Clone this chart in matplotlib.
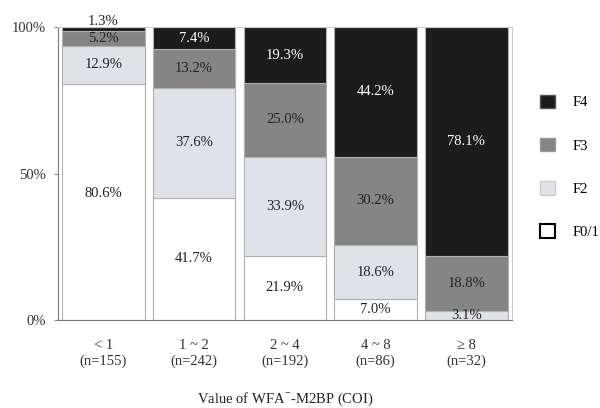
import numpy as np
import matplotlib
matplotlib.use("Agg")
import matplotlib.pyplot as plt
from matplotlib.patches import Patch

plt.rcParams['font.family'] = ['Liberation Serif', 'DejaVu Serif']
plt.rcParams['mathtext.fontset'] = 'custom'
plt.rcParams['mathtext.rm'] = 'Liberation Serif'

# data (percent of patients per fibrosis stage)
groups = ["< 1\n(n=155)", "1 ~ 2\n(n=242)", "2 ~ 4\n(n=192)", "4 ~ 8\n(n=86)", "≥ 8\n(n=32)"]
f01 = [80.6, 41.7, 21.9, 7.0, 0.0]
f2 = [12.9, 37.6, 33.9, 18.6, 3.1]
f3 = [5.2, 13.2, 25.0, 30.2, 18.8]
f4 = [1.3, 7.4, 19.3, 44.2, 78.1]

stages = ["F0/1", "F2", "F3", "F4"]
colors = ["#ffffff", "#dfe2e8", "#858585", "#1c1c1c"]
txt_colors = ["#222222", "#222222", "#222222", "#ffffff"]

fig = plt.figure(figsize=(6, 4.08), dpi=100)
ax = fig.add_axes([0.0967, 0.2157, 0.756, 0.718])

x = np.arange(len(groups))
bottom = np.zeros(len(groups))
for vals, col, tc, name in zip([f01, f2, f3, f4], colors, txt_colors, stages):
    vals = np.array(vals)
    ax.bar(x, vals, width=0.91, bottom=bottom, color=col,
           edgecolor="#b0b0b0", linewidth=0.8, label=name)
    for i, v in enumerate(vals):
        if v <= 0:
            continue
        y = bottom[i] + v / 2
        c = tc
        if v < 2:
            # tiny segment: label sits above the bar
            y = bottom[i] + v + 2.0
            c = "#222222"
        if v > 60 and col == "#ffffff":
            y += 3  # the big white block's label sits a bit high
        ax.text(x[i], y, f"{v:.1f}%", ha="center", va="center",
                fontsize=10.5, color=c)
    bottom += vals

ax.set_xlim(-0.5, 4.5)
ax.set_ylim(0, 100)
ax.set_yticks([0, 50, 100])
ax.set_yticklabels(["0%", "50%", "100%"], fontsize=10.5, color="#333333")
ax.set_xticks(x)
ax.set_xticklabels(groups, fontsize=10.5, color="#333333", linespacing=1.2)
ax.tick_params(axis="x", length=0, pad=14)
ax.tick_params(axis="y", length=3, color="#888888", pad=6)
for s in ["top", "right"]:
    ax.spines[s].set_color("#cccccc")
    ax.spines[s].set_linewidth(0.8)
for s in ["left", "bottom"]:
    ax.spines[s].set_color("#777777")
    ax.spines[s].set_linewidth(0.8)

ax.set_xlabel(r"Value of WFA$^{\mathregular{-}}$-M2BP (COI)", fontsize=10.5,
              color="#222222", labelpad=16)

handles = [Patch(facecolor=colors[3], edgecolor="#555555"),
           Patch(facecolor=colors[2], edgecolor="#999999"),
           Patch(facecolor=colors[1], edgecolor="#cccccc"),
           Patch(facecolor="white", edgecolor="black", linewidth=1.5)]
fig.legend(handles, ["F4", "F3", "F2", "F0/1"], loc="upper left",
           bbox_to_anchor=(0.9, 0.768), frameon=False, fontsize=10.5,
           handlelength=1.05, handleheight=1.05, labelspacing=1.95,
           handletextpad=1.2, borderpad=0, borderaxespad=0)

fig.savefig("out.png", dpi=100)
